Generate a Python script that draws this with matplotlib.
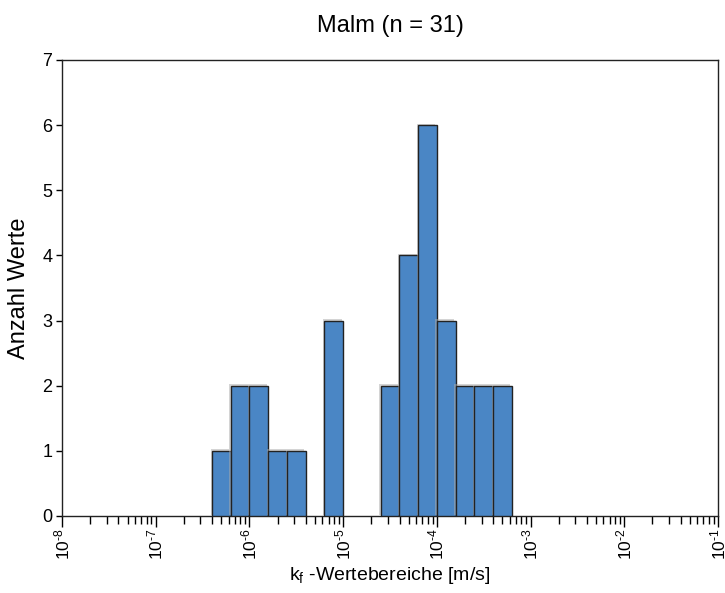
import numpy as np
import matplotlib
matplotlib.use("Agg")
import matplotlib.pyplot as plt
import matplotlib.patheffects as pe
from matplotlib.ticker import LogLocator, FixedLocator, NullFormatter

plt.rcParams['font.family'] = ['Liberation Sans', 'DejaVu Sans']
plt.rcParams['mathtext.fontset'] = 'custom'
plt.rcParams['mathtext.rm'] = 'Liberation Sans'
plt.rcParams['mathtext.it'] = 'Liberation Sans:italic'
plt.rcParams['mathtext.bf'] = 'Liberation Sans:bold'

# bin edges in log10(m/s), 0.2-decade bins
bin_lo_log = [-6.4, -6.2, -6.0, -5.8, -5.6, -5.2, -4.6, -4.4, -4.2, -4.0, -3.8, -3.6, -3.4]
counts = [1, 2, 2, 1, 1, 3, 2, 4, 6, 3, 2, 2, 2]
bin_width_log = 0.2
title = "Malm (n = 31)"
xlabel = r"k$_\mathrm{f}$ -Wertebereiche [m/s]"
ylabel = "Anzahl Werte"
xmajor_exp = [-8, -7, -6, -5, -4, -3, -2, -1]

fig = plt.figure(figsize=(7.25, 5.93), dpi=100)
ax = fig.add_axes([62/725, 1-516/593, (718-62)/725, (516-60)/593])

lo = 10.0**np.array(bin_lo_log)
hi = 10.0**(np.array(bin_lo_log) + bin_width_log)
bars = ax.bar(lo, counts, width=hi - lo, align='edge', color='#4A86C5',
              edgecolor='#222222', linewidth=1.0, zorder=3)
for b in bars:
    b.set_path_effects([pe.SimplePatchShadow(offset=(-1, 1), shadow_rgbFace='#aaaaaa', alpha=0.5),
                        pe.Normal()])

ax.set_xscale('log')
ax.set_xlim(1e-8, 1e-1)
ax.set_ylim(0, 7)
ax.set_yticks(range(0, 8))

ax.xaxis.set_major_locator(FixedLocator([10.0**e for e in xmajor_exp]))
ax.set_xticklabels([r"$10^{\text{-}%d}$" % abs(e) for e in xmajor_exp], rotation=90)
ax.xaxis.set_minor_locator(LogLocator(base=10, subs=np.arange(2, 10), numticks=100))
ax.xaxis.set_minor_formatter(NullFormatter())

ax.tick_params(axis='x', which='major', length=8, width=1, direction='out', labelsize=12.5, pad=1)
ax.tick_params(axis='x', which='minor', length=6, width=1, direction='out')
ax.tick_params(axis='y', which='major', length=4, width=1, direction='out', labelsize=13, pad=3)

for s in ax.spines.values():
    s.set_linewidth(1.0)
    s.set_color('#222222')

ax.set_title(title, fontsize=17, pad=20)
ax.set_xlabel(xlabel, fontsize=14, labelpad=3)
ax.set_ylabel(ylabel, fontsize=17, labelpad=9)

fig.savefig("out.png", dpi=100)
